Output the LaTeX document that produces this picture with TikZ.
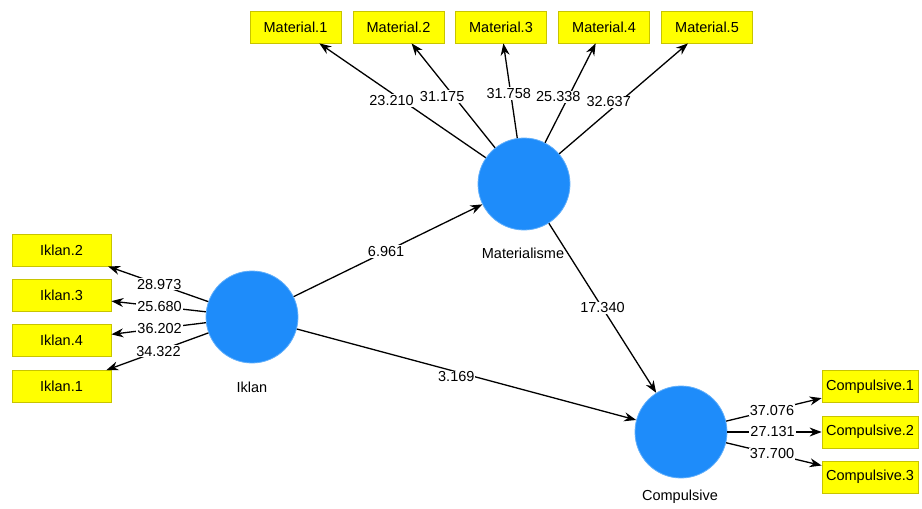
\documentclass[tikz,border=0pt]{standalone}
\usepackage{fontspec}
\setmainfont{Liberation Sans}
\usetikzlibrary{arrows.meta}
\definecolor{lvblue}{HTML}{1E8CFA}
\definecolor{indyel}{HTML}{FFFF00}
\definecolor{indedge}{HTML}{C8C400}
\tikzset{
  latent/.style={circle,fill=lvblue,draw=lvblue!70!white,line width=0.8pt,minimum size=92pt,inner sep=0pt},
  ind/.style={rectangle,fill=indyel,draw=indedge,line width=0.8pt,minimum height=32pt,inner sep=0pt,font=\fontsize{14.5}{16}\selectfont},
  lvname/.style={font=\fontsize{14.5}{16}\selectfont},
  lbl/.style={fill=white,inner sep=1pt,font=\fontsize{14.5}{16}\selectfont},
  link/.style={line width=1.3pt,-{Stealth[length=12pt,width=9pt]}}
}

\begin{document}
\begin{tikzpicture}[x=1pt,y=-1pt]
  \useasboundingbox (0,0) rectangle (922,509);
  % latent variables
  \node[latent] (mat) at (524,184) {};
  \node[latent] (ikl) at (252,317) {};
  \node[latent] (com) at (681,432) {};
  \node[lvname] (matname) at (523,253) {Materialisme};
  \node[lvname] (iklname) at (252,387) {Iklan};
  \node[lvname] (comname) at (680,497) {Compulsive};
  % indicators
  \node[ind,minimum width=91pt] (m1) at (295.5,27) {Material.1};
  \node[ind,minimum width=91pt] (m2) at (398.5,27) {Material.2};
  \node[ind,minimum width=91pt] (m3) at (501,27) {Material.3};
  \node[ind,minimum width=91pt] (m4) at (604,27) {Material.4};
  \node[ind,minimum width=91pt] (m5) at (707,27) {Material.5};
  \node[ind,minimum width=99pt] (i2) at (61.5,250) {Iklan.2};
  \node[ind,minimum width=99pt] (i3) at (61.5,295.5) {Iklan.3};
  \node[ind,minimum width=99pt] (i4) at (61.5,340.5) {Iklan.4};
  \node[ind,minimum width=99pt] (i1) at (61.5,386.5) {Iklan.1};
  \node[ind,minimum width=96pt] (c1) at (870,386.5) {Compulsive.1};
  \node[ind,minimum width=96pt] (c2) at (870,432) {Compulsive.2};
  \node[ind,minimum width=96pt] (c3) at (870,477) {Compulsive.3};
  % outer loadings
  \draw[link] (mat) -- (m1) node[lbl,pos=.50,xshift=-11pt] {23.210};
  \draw[link] (mat) -- (m2) node[lbl,pos=.49,xshift=-12pt] {31.175};
  \draw[link] (mat) -- (m3) node[lbl,pos=.47,xshift=-2pt] {31.758};
  \draw[link] (mat) -- (m4) node[lbl,pos=.46,xshift=-10pt] {25.338};
  \draw[link] (mat) -- (m5) node[lbl,pos=.47,xshift=-11pt] {32.637};
  \draw[link] (ikl) -- (i2) node[lbl,pos=.49] {28.973};
  \draw[link] (ikl) -- (i3) node[lbl,pos=.49] {25.680};
  \draw[link] (ikl) -- (i4) node[lbl,pos=.49] {36.202};
  \draw[link] (ikl) -- (i1) node[lbl,pos=.49] {34.322};
  \draw[link] (com) -- (c1) node[lbl,pos=.48] {37.076};
  \draw[link] (com) -- (c2) node[lbl,pos=.48] {27.131};
  \draw[link] (com) -- (c3) node[lbl,pos=.48] {37.700};
  % inner model
  \draw[link] (ikl) -- (mat) node[lbl,pos=.49] {6.961};
  \draw[link] (ikl) -- (com) node[lbl,pos=.47,yshift=-5pt] {3.169};
  \draw[link] (mat) -- (com) node[lbl,pos=.5] {17.340};
\end{tikzpicture}
\end{document}
